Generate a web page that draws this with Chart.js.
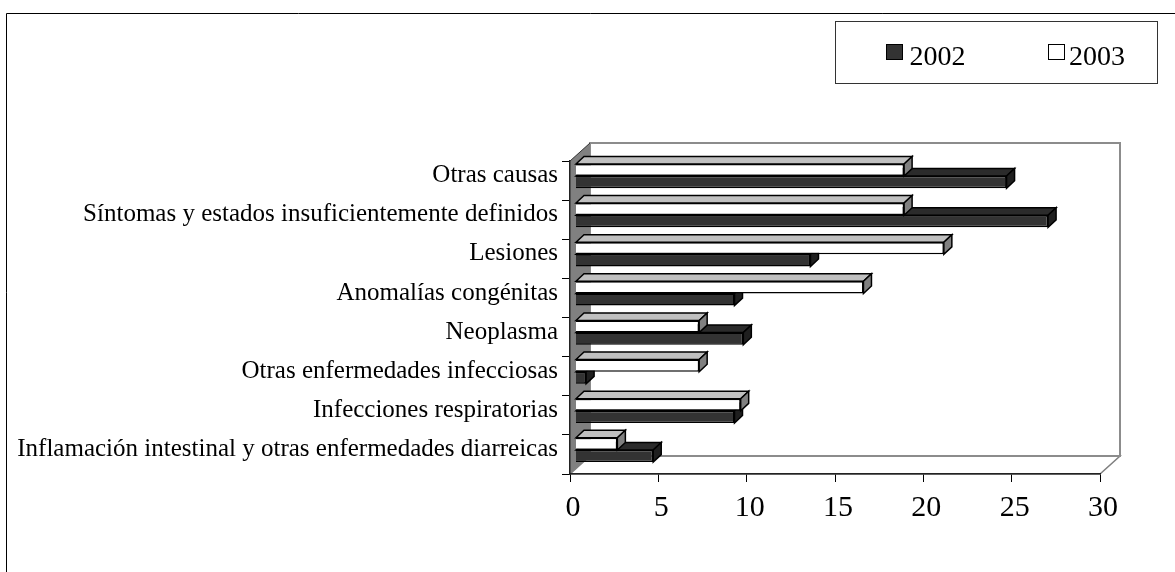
<!DOCTYPE html>
<html>
<head>
<meta charset="utf-8">
<script src="https://cdn.jsdelivr.net/npm/chart.js@4/dist/chart.umd.min.js"></script>
<style>
  body { margin: 0; background: #fff; }
  canvas { display: block; }
</style>
</head>
<body>
<canvas id="chart" width="1175" height="572"></canvas>
<script>
const categories = [
    'Otras causas',
    'Síntomas y estados insuficientemente definidos',
    'Lesiones',
    'Anomalías congénitas',
    'Neoplasma',
    'Otras enfermedades infecciosas',
    'Infecciones respiratorias',
    'Inflamación intestinal y otras enfermedades diarreicas'
];
const values2002 = [24.4, 26.75, 13.3, 9.0, 9.5, 0.6, 9.0, 4.4];
const values2003 = [18.6, 18.6, 20.85, 16.3, 7.0, 7.0, 9.35, 2.37];
const xTicks = [0, 5, 10, 15, 20, 25, 30];

const serif = '"Liberation Serif", "Times New Roman", serif';
const wallX = 20, wallY = 18;    // depth of the box
const barX = 5.5, barY = -4.5;   // bars sit a little inside the box
const depthX = 8, depthY = 7.5;  // depth of each bar

function poly(ctx, pts, fill, stroke, width) {
    ctx.beginPath();
    pts.forEach((p, i) => i ? ctx.lineTo(p[0], p[1]) : ctx.moveTo(p[0], p[1]));
    ctx.closePath();
    if (fill) { ctx.fillStyle = fill; ctx.fill(); }
    if (stroke) { ctx.strokeStyle = stroke; ctx.lineWidth = width; ctx.stroke(); }
}

const box3d = {
    id: 'box3d',
    beforeDraw(chart) {
        const ctx = chart.ctx, a = chart.chartArea;
        ctx.save();
        ctx.fillStyle = '#fff';
        ctx.fillRect(0, 0, chart.width, chart.height);

        // outer frame, top and left only
        ctx.strokeStyle = '#000';
        ctx.lineWidth = 1;
        ctx.beginPath();
        ctx.moveTo(6.5, chart.height);
        ctx.lineTo(6.5, 13.5);
        ctx.lineTo(chart.width, 13.5);
        ctx.stroke();

        // floor, back wall, side wall
        poly(ctx, [[a.left, a.bottom], [a.left + wallX, a.bottom - wallY], [a.right + wallX, a.bottom - wallY], [a.right, a.bottom]], '#fff', '#808080', 1.5);
        poly(ctx, [[a.left + wallX, a.top - wallY], [a.right + wallX, a.top - wallY], [a.right + wallX, a.bottom - wallY], [a.left + wallX, a.bottom - wallY]], '#fff', '#8c8c8c', 2);
        poly(ctx, [[a.left, a.top], [a.left + wallX, a.top - wallY], [a.left + wallX, a.bottom - wallY], [a.left, a.bottom]], '#808080', null);
        ctx.strokeStyle = '#333';
        ctx.lineWidth = 1;
        ctx.beginPath();
        ctx.moveTo(a.left, a.top);
        ctx.lineTo(a.left + wallX, a.top - wallY);
        ctx.stroke();
        ctx.restore();
    },
    beforeDatasetsDraw(chart) {
        chart.ctx.save();
        chart.ctx.translate(barX, barY);
    },
    beforeDatasetDraw(chart, args) {
        const ctx = chart.ctx;
        const ds = chart.data.datasets[args.index];
        args.meta.data.forEach(bar => {
            const p = bar.getProps(['x', 'y', 'base', 'height'], true);
            const top = p.y - p.height / 2, bottom = p.y + p.height / 2;
            poly(ctx, [[p.base, top], [p.base + depthX, top - depthY], [p.x + depthX, top - depthY], [p.x, top]], ds.topColor, '#000', 1.5);
            poly(ctx, [[p.x, top], [p.x + depthX, top - depthY], [p.x + depthX, bottom - depthY], [p.x, bottom]], ds.sideColor, '#000', 1.5);
        });
    },
    afterDatasetsDraw(chart) {
        chart.ctx.restore();
    },
    afterDraw(chart) {
        // legend box, in the order the series were given
        const ctx = chart.ctx;
        ctx.save();
        ctx.strokeStyle = '#333';
        ctx.lineWidth = 1;
        ctx.strokeRect(835.5, 21.5, 322, 62);
        ctx.font = '28px ' + serif;
        ctx.textBaseline = 'alphabetic';
        [[886, 909.5], [1048, 1069]].forEach((x, i) => {
            const ds = chart.data.datasets[i];
            ctx.fillStyle = ds.backgroundColor;
            ctx.fillRect(x[0], 44.5, 16, 15);
            ctx.strokeStyle = '#000';
            ctx.strokeRect(x[0] + .5, 44.5, 16, 15);
            ctx.fillStyle = '#000';
            ctx.fillText(ds.label, x[1], 65);
        });
        ctx.restore();
    }
};

new Chart(document.getElementById('chart'), {
    type: 'bar',
    plugins: [box3d],
    data: {
        labels: categories,
        datasets: [
            { label: '2002', data: values2002, order: 2, backgroundColor: '#333333', topColor: '#2b2b2b', sideColor: '#1f1f1f',
              borderColor: '#000', borderWidth: 1.5, clip: false, categoryPercentage: 0.62, barPercentage: 1 },
            { label: '2003', data: values2003, order: 1, backgroundColor: '#ffffff', topColor: '#c0c0c0', sideColor: '#808080',
              borderColor: '#000', borderWidth: 1.5, clip: false, categoryPercentage: 0.62, barPercentage: 1 }
        ]
    },
    options: {
        indexAxis: 'y',
        responsive: false,
        animation: false,
        layout: { padding: { left: 17, top: 161, right: 75, bottom: 0 } },
        plugins: { legend: { display: false }, tooltip: { enabled: false } },
        scales: {
            x: {
                min: 0,
                max: 30,
                afterFit: s => { s.height = 98; },
                afterBuildTicks: s => { s.ticks = xTicks.map(v => ({ value: v })); },
                grid: { drawOnChartArea: false, tickLength: 8, color: '#000' },
                border: { color: '#222', width: 1.5 },
                ticks: { color: '#000', padding: 8, labelOffset: 3, maxRotation: 0, font: { family: serif, size: 30 } }
            },
            y: {
                afterFit: s => { s.width = 553; },
                grid: { drawOnChartArea: false, tickLength: 8, color: '#000' },
                border: { color: '#222', width: 1.5 },
                ticks: { color: '#000', padding: 4, labelOffset: -5, autoSkip: false, font: { family: serif, size: 25 } }
            }
        }
    }
});
</script>
</body>
</html>
